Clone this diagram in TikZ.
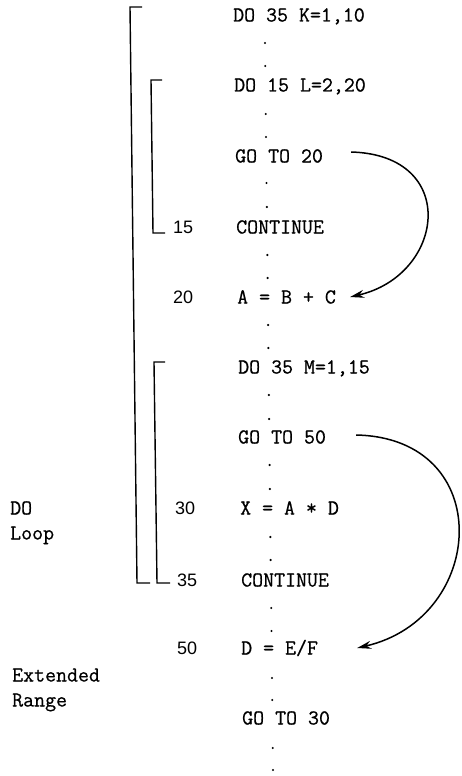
\documentclass[tikz,border=0pt]{standalone}
\usepackage{fontspec}
\newfontfamily\numfont{Liberation Sans}
\newfontfamily\codefont{Latin Modern Mono}[FakeBold=0.7]
\usetikzlibrary{arrows.meta,calc}
\tikzset{
  code/.style={font=\fontsize{21.3}{25}\selectfont\codefont, anchor=west, inner sep=0pt, text height=13pt, text depth=0pt},
  lbl/.style={font=\fontsize{18}{22}\selectfont\numfont, anchor=west, inner sep=0pt, text height=13pt, text depth=0pt},
  side/.style={font=\fontsize{21.3}{25}\selectfont\codefont, anchor=west, inner sep=0pt, text height=13pt, text depth=0pt},
  bracket/.style={line width=1.4pt},
  jump/.style={line width=1.5pt, -{Stealth[length=14pt,width=8pt]}},
  vdot/.style={fill=black}
}
\begin{document}
\begin{tikzpicture}[x=1pt,y=-1pt]
\useasboundingbox (0,0) rectangle (461,776);

% code lines
\node[code] (do35k) at (233,15)  {DO 35 K=1,10};
\node[code] (do15l) at (234,85)  {DO 15 L=2,20};
\node[code] (g20)   at (235,156) {GO TO 20};
\node[code] (cont15) at (236,227) {CONTINUE};
\node[code] (abc)   at (237,297) {A = B + C};
\node[code] (do35m) at (238,367) {DO 35 M=1,15};
\node[code] (g50)   at (238,437) {GO TO 50};
\node[code] (xad)   at (240,508) {X = A * D};
\node[code] (cont35) at (241,580) {CONTINUE};
\node[code] (def)   at (241,648) {D = E/F};
\node[code] (g30)   at (242,718) {GO TO 30};

% statement labels
\node[lbl] (n15) at (173,227) {15};
\node[lbl] (n20) at (173,297) {20};
\node[lbl] (n30) at (175,508) {30};
\node[lbl] (n35) at (177,580) {35};
\node[lbl] (n50) at (177,648) {50};

% side captions
\node[side] (doA) at (10,508) {DO};
\node[side] (doB) at (10,533) {Loop};
\node[side] (exA) at (12,675) {Extended};
\node[side] (exB) at (12,700) {Range};

% vertical ellipsis dots
\foreach \y in {43,66,114,137,183,207,255,278,325,348,395,419,465,489,537,560,608,631,678,700,748,770}{
  \pgfmathsetmacro{\xx}{265+(\y-43)*8/727}
  \fill[vdot] (\xx,\y) circle (1.2);
}

% brackets
\draw[bracket] (142,7) -- (130,7) -- (137,583) -- (150,583);
\draw[bracket] (162,80) -- (151,80) -- (153,233) -- (165,233);
\draw[bracket] (165,362) -- (154,362) -- (157,583) -- (170,583);

% jumps
\draw[jump] ($(g20.east)+(28,-4)$) .. controls (460,155) and (445,275) .. ($(abc.east)+(14,0)$);
\draw[jump] ($(g50.east)+(30,-2)$) .. controls (497,438) and (487,618) .. ($(def.east)+(39,0)$);
\end{tikzpicture}
\end{document}
